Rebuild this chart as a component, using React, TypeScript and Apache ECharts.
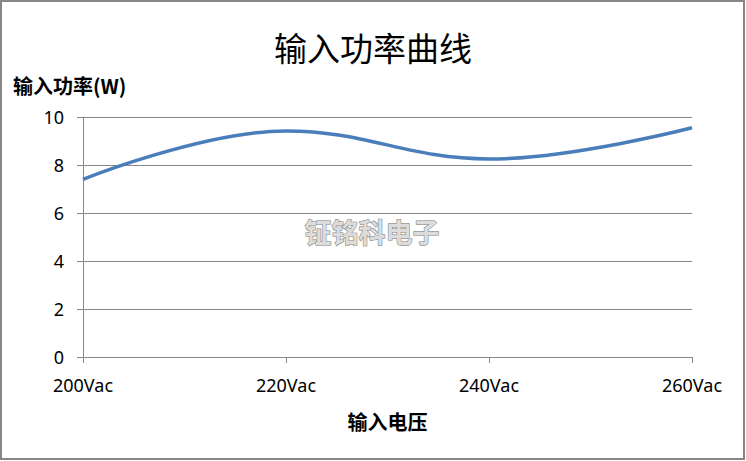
import React, { useEffect, useRef } from "react";
import * as echarts from "echarts";

const categories = ["200Vac", "220Vac", "240Vac", "260Vac"];
const powerValues = [7.4, 9.42, 8.25, 9.55];
const titleText = "输入功率曲线";
const yName = "输入功率(W)";
const xName = "输入电压";
const watermark = "钲铭科电子";

export default function App() {
  const ref = useRef<HTMLDivElement>(null);
  useEffect(() => {
    if (!ref.current) return;
    const chart = echarts.init(ref.current, null, { renderer: "svg" });
    const font = "'Noto Sans', 'Noto Sans CJK SC', sans-serif";
    const cjk = "'Noto Sans CJK SC', sans-serif";
    chart.setOption({
      animation: false,
      backgroundColor: "#ffffff",
      title: {
        text: titleText,
        left: "center",
        top: 25,
        textStyle: { fontSize: 33, fontWeight: "normal", color: "#000", fontFamily: cjk },
      },
      grid: { left: 83, right: 54, top: 117, bottom: 104, containLabel: false },
      xAxis: {
        type: "category",
        data: categories,
        boundaryGap: false,
        name: xName,
        nameLocation: "middle",
        nameGap: 54,
        nameTextStyle: { fontSize: 20, fontWeight: "bold", color: "#000", fontFamily: cjk },
        axisLine: { lineStyle: { color: "#868686", width: 1 } },
        axisTick: { show: true, length: 6, alignWithLabel: true, lineStyle: { color: "#868686" } },
        axisLabel: { fontSize: 18, color: "#000", margin: 19, fontFamily: font },
        splitLine: { show: false },
      },
      yAxis: {
        type: "value",
        min: 0,
        max: 10,
        interval: 2,
        axisLine: { show: true, lineStyle: { color: "#868686", width: 1 } },
        axisTick: { show: true, length: 6, lineStyle: { color: "#868686" } },
        axisLabel: { fontSize: 18, color: "#000", margin: 19, fontFamily: font },
        splitLine: { show: true, lineStyle: { color: "#868686", width: 1 } },
      },
      graphic: [
        {
          type: "rect",
          shape: { x: 1, y: 1, width: 743, height: 458 },
          style: { fill: "none", stroke: "#868686", lineWidth: 2 },
          silent: true,
        },
        {
          type: "text",
          left: 13,
          top: 75,
          style: {
            text: yName,
            fontSize: 20,
            fontWeight: "bold",
            fill: "#000",
            fontFamily: cjk,
          },
        },
        {
          type: "text",
          x: 372,
          y: 231,
          z: 100,
          style: {
            text: watermark,
            fontSize: 27,
            fontWeight: "bold",
            fill: "#dcdcdc",
            stroke: "#7a7a7a",
            lineWidth: 1,
            align: "center",
            verticalAlign: "middle",
            fontFamily: cjk,
            shadowColor: "rgba(0,0,0,0.4)",
            shadowOffsetX: 1,
            shadowOffsetY: 1,
            shadowBlur: 1,
          },
        },
      ],
      series: [
        {
          type: "line",
          data: powerValues,
          smooth: 0.4,
          symbol: "none",
          lineStyle: { color: "#4a7ebb", width: 3.5 },
        },
      ],
    });
    return () => chart.dispose();
  }, []);
  return (
    <div
      ref={ref}
      style={{ position: "fixed", left: 0, top: 0, width: 746, height: 461 }}
    />
  );
}
